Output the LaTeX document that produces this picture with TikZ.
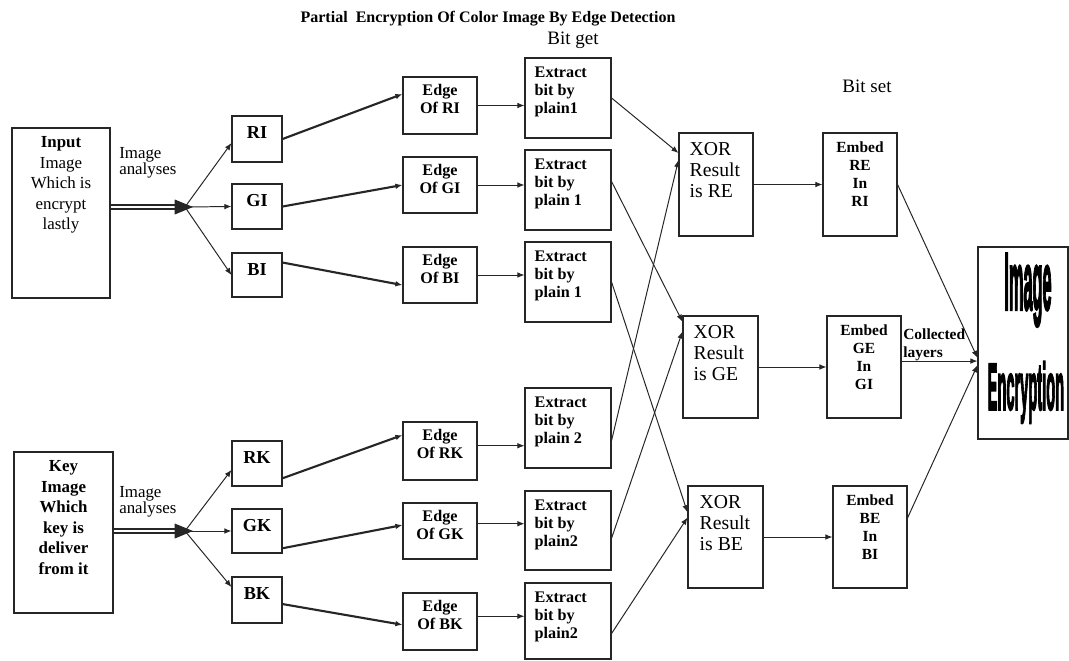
\documentclass[tikz,border=0pt]{standalone}
\usepackage{fontspec}
\setmainfont{Liberation Serif}
\newfontfamily\encfont[BoldFeatures={FakeBold=4}]{Liberation Sans}
\usepackage{graphicx}
\usepackage{tikz}
\usetikzlibrary{positioning, arrows.meta, fit}
\tikzset{
  blk/.style={rectangle, draw=black!85, line width=0.8pt, inner sep=0pt},
  srctxt/.style={inner sep=0pt, align=center, font=\fontsize{12}{14.6}\selectfont},
  keytxt/.style={inner sep=0pt, align=center, font=\fontsize{12}{14.6}\selectfont\bfseries},
  chtxt/.style={inner sep=0pt, font=\fontsize{13}{15}\selectfont\bfseries},
  edgetxt/.style={inner sep=0pt, align=center, font=\fontsize{11.5}{12.8}\selectfont\bfseries},
  exttxt/.style={inner sep=0pt, align=left, font=\fontsize{11.5}{12.8}\selectfont\bfseries},
  xortxt/.style={inner sep=0pt, align=left, font=\fontsize{14}{15}\selectfont},
  embtxt/.style={inner sep=0pt, align=center, font=\fontsize{11}{12.8}\selectfont\bfseries},
  enctxt/.style={inner sep=0pt, font=\encfont\fontsize{20}{24}\selectfont\bfseries},
  anltxt/.style={inner sep=0pt, align=left, anchor=north west, font=\fontsize{12}{11.5}\selectfont},
  coltxt/.style={inner sep=0pt, align=left, anchor=north west, font=\fontsize{11}{12.8}\selectfont\bfseries},
  hdtxt/.style={inner sep=0pt, font=\fontsize{11.4}{13}\selectfont\bfseries},
  bittxt/.style={inner sep=0pt, font=\fontsize{13.5}{15}\selectfont},
  arr/.style={-{Latex[length=5pt, width=4pt]}, line width=0.7pt, draw=black!85},
  tharr/.style={arr, line width=1.5pt},
  dbl/.style={draw=black!85, line width=0.9pt, double=white, double distance=1.8pt},
  bigtip/.style={-{Triangle[length=13pt, width=10.5pt]}, line width=0.6pt, draw=black!85},
}

\begin{document}
\begin{tikzpicture}[x=0.025cm, y=-0.025cm]
  \useasboundingbox (0,0) rectangle (1069,660);
  \fill[white] (0,0) rectangle (1069,660);

  \node[hdtxt] (title) at (488,19) {Partial\ \ Encryption Of Color Image By Edge Detection};
  \node[bittxt] (bitget) at (573,40) {Bit get};
  \node[bittxt] (bitset) at (867,86) {Bit set};

  \node[blk, fit={(12,128) (110,298)},
        label={[srctxt, anchor=north, yshift=-0.225cm]north:{\textbf{Input}\\Image\\Which is\\encrypt\\lastly}}] (inp) {};
  \node[blk, fit={(14,452) (113,613)},
        label={[keytxt, anchor=north, yshift=-0.225cm]north:{Key\\Image\\Which\\key is\\deliver\\from it}}] (key) {};

  \node[anltxt] (anl1) at (119,147) {Image\\analyses};
  \node[anltxt] (anl2) at (119,486) {Image\\analyses};

  \coordinate (itip) at (193,207);
  \coordinate (ibr)  at (185,207);
  \coordinate (ktip) at (193,531);
  \coordinate (kbr)  at (185,531);

  \node[blk, fit={(232,116) (282,162)}, label={[chtxt, anchor=north, yshift=-0.275cm]north:RI}] (ri) {};
  \node[blk, fit={(232,184) (282,229)}, label={[chtxt, anchor=north, yshift=-0.275cm]north:GI}] (gi) {};
  \node[blk, fit={(232,253) (282,297)}, label={[chtxt, anchor=north, yshift=-0.275cm]north:BI}] (bi) {};
  \node[blk, fit={(232,441) (282,486)}, label={[chtxt, anchor=north, yshift=-0.275cm]north:RK}] (rk) {};
  \node[blk, fit={(232,509) (282,553)}, label={[chtxt, anchor=north, yshift=-0.275cm]north:GK}] (gk) {};
  \node[blk, fit={(232,577) (282,623)}, label={[chtxt, anchor=north, yshift=-0.275cm]north:BK}] (bk) {};

  \node[blk, fit={(403,77) (477,134)},  label={[edgetxt, anchor=north, yshift=-0.2cm]north:{Edge\\Of RI}}] (edgeri) {};
  \node[blk, fit={(403,157) (477,213)}, label={[edgetxt, anchor=north, yshift=-0.2cm]north:{Edge\\Of GI}}] (edgegi) {};
  \node[blk, fit={(403,247) (477,303)}, label={[edgetxt, anchor=north, yshift=-0.2cm]north:{Edge\\Of BI}}] (edgebi) {};
  \node[blk, fit={(403,422) (477,480)}, label={[edgetxt, anchor=north, yshift=-0.2cm]north:{Edge\\Of RK}}] (edgerk) {};
  \node[blk, fit={(403,503) (477,559)}, label={[edgetxt, anchor=north, yshift=-0.2cm]north:{Edge\\Of GK}}] (edgegk) {};
  \node[blk, fit={(403,593) (477,650)}, label={[edgetxt, anchor=north, yshift=-0.2cm]north:{Edge\\Of BK}}] (edgebk) {};

  \node[blk, fit={(525,58) (611,138)},
        label={[exttxt, anchor=north west, xshift=0.25cm, yshift=-0.225cm]north west:{Extract\\bit by\\plain1}}] (exr) {};
  \node[blk, fit={(525,150) (611,230)},
        label={[exttxt, anchor=north west, xshift=0.25cm, yshift=-0.225cm]north west:{Extract\\bit by\\plain 1}}] (exg) {};
  \node[blk, fit={(525,242) (611,322)},
        label={[exttxt, anchor=north west, xshift=0.25cm, yshift=-0.225cm]north west:{Extract\\bit by\\plain 1}}] (exb) {};
  \node[blk, fit={(525,388) (611,468)},
        label={[exttxt, anchor=north west, xshift=0.25cm, yshift=-0.225cm]north west:{Extract\\bit by\\plain 2}}] (exrk) {};
  \node[blk, fit={(525,491) (611,570)},
        label={[exttxt, anchor=north west, xshift=0.25cm, yshift=-0.225cm]north west:{Extract\\bit by\\plain2}}] (exgk) {};
  \node[blk, fit={(525,583) (611,659)},
        label={[exttxt, anchor=north west, xshift=0.25cm, yshift=-0.225cm]north west:{Extract\\bit by\\plain2}}] (exbk) {};

  \node[blk, fit={(679,133) (753,236)},
        label={[xortxt, anchor=north west, xshift=0.275cm, yshift=-0.25cm]north west:{XOR\\Result\\is RE}}] (xorre) {};
  \node[blk, fit={(683,316) (758,418)},
        label={[xortxt, anchor=north west, xshift=0.275cm, yshift=-0.25cm]north west:{XOR\\Result\\is GE}}] (xorge) {};
  \node[blk, fit={(688,486) (763,588)},
        label={[xortxt, anchor=north west, xshift=0.3cm, yshift=-0.25cm]north west:{XOR\\Result\\is BE}}] (xorbe) {};

  \node[blk, fit={(823,133) (897,236)},
        label={[embtxt, anchor=north, yshift=-0.225cm]north:{Embed\\RE\\In\\RI}}] (embre) {};
  \node[blk, fit={(827,316) (901,418)},
        label={[embtxt, anchor=north, yshift=-0.225cm]north:{Embed\\GE\\In\\GI}}] (embge) {};
  \node[blk, fit={(833,486) (907,588)},
        label={[embtxt, anchor=north, yshift=-0.225cm]north:{Embed\\BE\\In\\BI}}] (embbe) {};

  \node[coltxt] (coll) at (903,328) {Collected\\layers};

  \node[blk, fit={(978,247) (1068,439)},
        label={[enctxt, anchor=base, xshift=0.125cm, yshift=-1.575cm]north:{\scalebox{0.58}[2.88]{Image}}},
        label={[enctxt, anchor=base west, xshift=0.25cm, yshift=-4.075cm]north west:{\scalebox{0.52}[2.34]{Encryption}}}] (imgenc) {};

  \draw[dbl] (inp.east |- itip) -- (ibr);
  \draw[bigtip] (ibr) -- (itip);
  \draw[dbl] (key.east |- ktip) -- (kbr);
  \draw[bigtip] (kbr) -- (ktip);
  \draw[arr] (ibr) -- (ri.189);
  \draw[arr] (ibr) -- (gi.west);
  \draw[arr] (ibr) -- (bi.west);
  \draw[arr] (kbr) -- (rk.194);
  \draw[arr] (kbr) -- (gk.west);
  \draw[arr] (kbr) -- (bk.153);

  \draw[tharr] (ri.east) -- (edgeri.163);
  \draw[tharr] (gi.east) -- (edgegi.west);
  \draw[tharr] (bi.26)   -- (edgebi.195);
  \draw[tharr] (rk.330)  -- (edgerk.157);
  \draw[tharr] (gk.326)  -- (edgegk.171);
  \draw[tharr] (bk.351)  -- (edgebk.185);

  \draw[arr] (edgeri.east) -- (edgeri.east -| exr.west);
  \draw[arr] (edgegi.east) -- (edgegi.east -| exg.west);
  \draw[arr] (edgebi.east) -- (edgebi.east -| exb.west);
  \draw[arr] (edgerk.8)  -- (edgerk.8 -| exrk.west);
  \draw[arr] (edgegk.11) -- (edgegk.11 -| exgk.west);
  \draw[arr] (edgebk.8)  -- (edgebk.8 -| exbk.west);

  \draw[arr] (exr.east)  -- (xorre.140);
  \draw[arr] (exrk.344)  -- (xorre.147);
  \draw[arr] (exg.11)    -- (xorge.130);
  \draw[arr] (exgk.350)  -- (xorge.137);
  \draw[arr] (exb.east)  -- (xorbe.147);
  \draw[arr] (exbk.344)  -- (xorbe.153);

  \draw[arr] (xorre.east) -- (xorre.east -| embre.west);
  \draw[arr] (xorge.east) -- (xorge.east -| embge.west);
  \draw[arr] (xorbe.east) -- (xorbe.east -| embbe.west);

  \draw[arr] (embre.east) -- (imgenc.198);
  \draw[arr] (embge.9)    -- (embge.9 -| imgenc.west);
  \draw[arr] (embbe.27)   -- (imgenc.206);

\end{tikzpicture}
\end{document}
